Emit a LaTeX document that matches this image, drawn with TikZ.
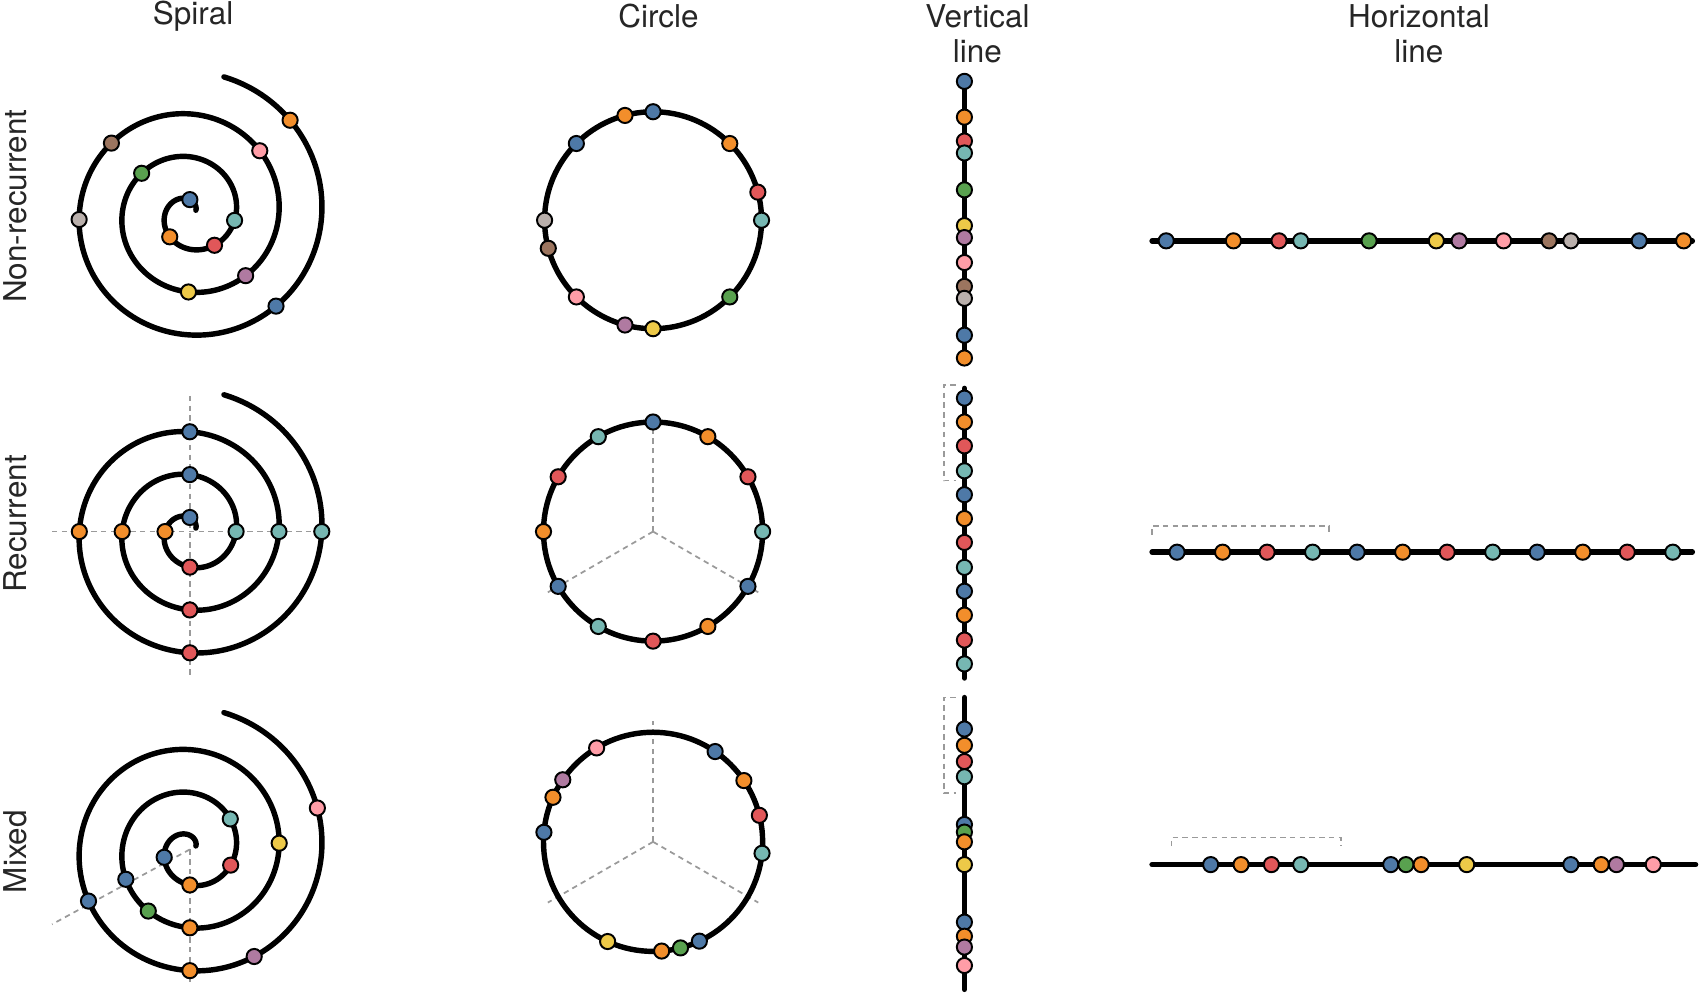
\documentclass[tikz,border=0pt]{standalone}
\usepackage{fontspec}
\setmainfont{TeX Gyre Heros}
\definecolor{tb}{HTML}{4E79A7}\definecolor{to}{HTML}{F28E2B}\definecolor{tr}{HTML}{E15759}
\definecolor{tt}{HTML}{76B7B2}\definecolor{tg}{HTML}{59A14F}\definecolor{ty}{HTML}{EDC948}
\definecolor{tp}{HTML}{B07AA1}\definecolor{tk}{HTML}{FF9DA7}\definecolor{tn}{HTML}{9C755F}
\definecolor{ta}{HTML}{BAB0AC}\definecolor{dg}{HTML}{9A9A9A}
\begin{document}
\begin{tikzpicture}[x=1pt,y=-1pt,
  dot/.style={circle,draw=black,line width=1.8pt,minimum size=14pt,inner sep=0pt},
  thick line/.style={line width=5pt,line cap=round},
  guide/.style={dg,line width=1.6pt,dash pattern=on 5pt off 4pt},
  lbl/.style={font=\fontsize{29}{32}\selectfont,text=black!85,align=center}]
\useasboundingbox (0,0) rectangle (1568,916);
% titles
\node[lbl] (t1) at (178,15) {Spiral};
\node[lbl] (t2) at (607,15) {Circle};
\node[lbl] (t3) at (901,31) {Vertical\\line};
\node[lbl] (t4) at (1308,31) {Horizontal\\line};
\node[lbl,rotate=90] (r1) at (14,190) {Non-recurrent};
\node[lbl,rotate=90] (r2) at (14,483) {Recurrent};
\node[lbl,rotate=90] (r3) at (14,785) {Mixed};
% ---- spirals
\draw[guide] (175,365) -- (175,622);
\draw[guide] (48,490) -- (300,490);
\draw[guide] (175,783) -- (175,905);
\draw[guide] (175,783) -- (48,852);
\foreach \cy in {197,490,783}{
  \draw[thick line] plot[domain=30:1156,samples=400,smooth] ({175+(3.125+0.10972*\x)*cos(\x)},{\cy-(3.125+0.10972*\x)*sin(\x)});
}
\foreach \t/\c in {90/tb,351.5/tt,308/tr,229/to,500/tg,672/tp,629/ty,762/tk,858/tn,903/ta,1033/tb,1123/to}
  \node[dot,fill=\c] at ({175+(3.125+0.10972*\t)*cos(\t)},{197-(3.125+0.10972*\t)*sin(\t)}) {};
\foreach \t/\c in {90/tb,180/to,270/tr,360/tt,450/tb,540/to,630/tr,720/tt,810/tb,900/to,990/tr,1080/tt}
  \node[dot,fill=\c] at ({175+(3.125+0.10972*\t)*cos(\t)},{490-(3.125+0.10972*\t)*sin(\t)}) {};
\foreach \t/\c in {1098/tk,724/ty,397/tt,339/tr,270/to,197/tb,565/tb,596/tg,630/to,927/tb,1021/tp,990/to}
  \node[dot,fill=\c] at ({175+(3.125+0.10972*\t)*cos(\t)},{783-(3.125+0.10972*\t)*sin(\t)}) {};
% ---- circles
\draw[guide] (602,490) -- (602,388);
\draw[guide] (602,490) -- ({602+112*cos(30)},{490+112*sin(30)});
\draw[guide] (602,490) -- ({602-112*cos(30)},{490+112*sin(30)});
\draw[guide] (602,776) -- (602,665);
\draw[guide] (602,776) -- ({602+112*cos(30)},{776+112*sin(30)});
\draw[guide] (602,776) -- ({602-112*cos(30)},{776+112*sin(30)});
\draw[line width=5pt] (602,203) circle (100);
\draw[line width=5pt] (602,490) circle (101);
\draw[line width=5pt] (602,776) circle (101);
\foreach \t/\c in {105/to,90/tb,45/to,135/tb,15/tr,0/tt,180/ta,195/tn,-45/tg,225/tk,255/tp,270/ty}
  \node[dot,fill=\c] at ({602+100*cos(\t)},{203-100*sin(\t)}) {};
\foreach \t/\c in {90/tb,60/to,30/tr,0/tt,-30/tb,-60/to,-90/tr,-120/tt,-150/tb,180/to,150/tr,120/tt}
  \node[dot,fill=\c] at ({602+101*cos(\t)},{490-101*sin(\t)}) {};
\foreach \t/\c in {121/tk,145.5/tp,156/to,175/tb,55.5/tb,34/to,14/tr,-6/tt,245.5/ty,274.5/to,284.5/tg,295/tb}
  \node[dot,fill=\c] at ({602+101*cos(\t)},{776-101*sin(\t)}) {};
% ---- vertical lines
\draw[guide] (881,355) -- (870,355) -- (870,443) -- (881,443);
\draw[guide] (881,643) -- (870,643) -- (870,731) -- (881,731);
\draw[thick line] (889,75) -- (889,330);
\draw[thick line] (889,358) -- (889,625);
\draw[thick line] (889,643) -- (889,912);
\foreach \y/\c in {75/tb,108/to,130/tr,141/tt,175/tg,208/ty,219/tp,242/tk,264/tn,275/ta,309/tb,330/to}
  \node[dot,fill=\c] at (889,\y) {};
\foreach \y/\c in {367/tb,389/to,411/tr,434/tt,456/tb,478/to,500/tr,523/tt,545/tb,567/to,590/tr,612/tt}
  \node[dot,fill=\c] at (889,\y) {};
\foreach \y/\c in {672/tb,687/to,702/tr,716/tt,760/tb,767/tg,776/to,797/ty,850/tb,863/to,873/tp,890/tk}
  \node[dot,fill=\c] at (889,\y) {};
% ---- horizontal lines
\draw[guide] (1062,493) -- (1062,485) -- (1225,485) -- (1225,493);
\draw[guide] (1080,780) -- (1080,772) -- (1236,772) -- (1236,780);
\draw[thick line] (1062,222) -- (1560,222);
\draw[thick line] (1062,509) -- (1560,509);
\draw[thick line] (1062,797) -- (1563,797);
\foreach \x/\c in {1075/tb,1137/to,1179/tr,1199/tt,1262/tg,1324/ty,1345/tp,1386/tk,1428/tn,1448/ta,1511/tb,1552/to}
  \node[dot,fill=\c] at (\x,222) {};
\foreach \x/\c in {1085/tb,1127/to,1168/tr,1210/tt,1251/tb,1293/to,1334/tr,1376/tt,1417/tb,1459/to,1500/tr,1542/tt}
  \node[dot,fill=\c] at (\x,509) {};
\foreach \x/\c in {1116/tb,1144/to,1172/tr,1199/tt,1282/tb,1296/tg,1310/to,1352/ty,1448/tb,1476/to,1490/tp,1524/tk}
  \node[dot,fill=\c] at (\x,797) {};
\end{tikzpicture}
\end{document}
